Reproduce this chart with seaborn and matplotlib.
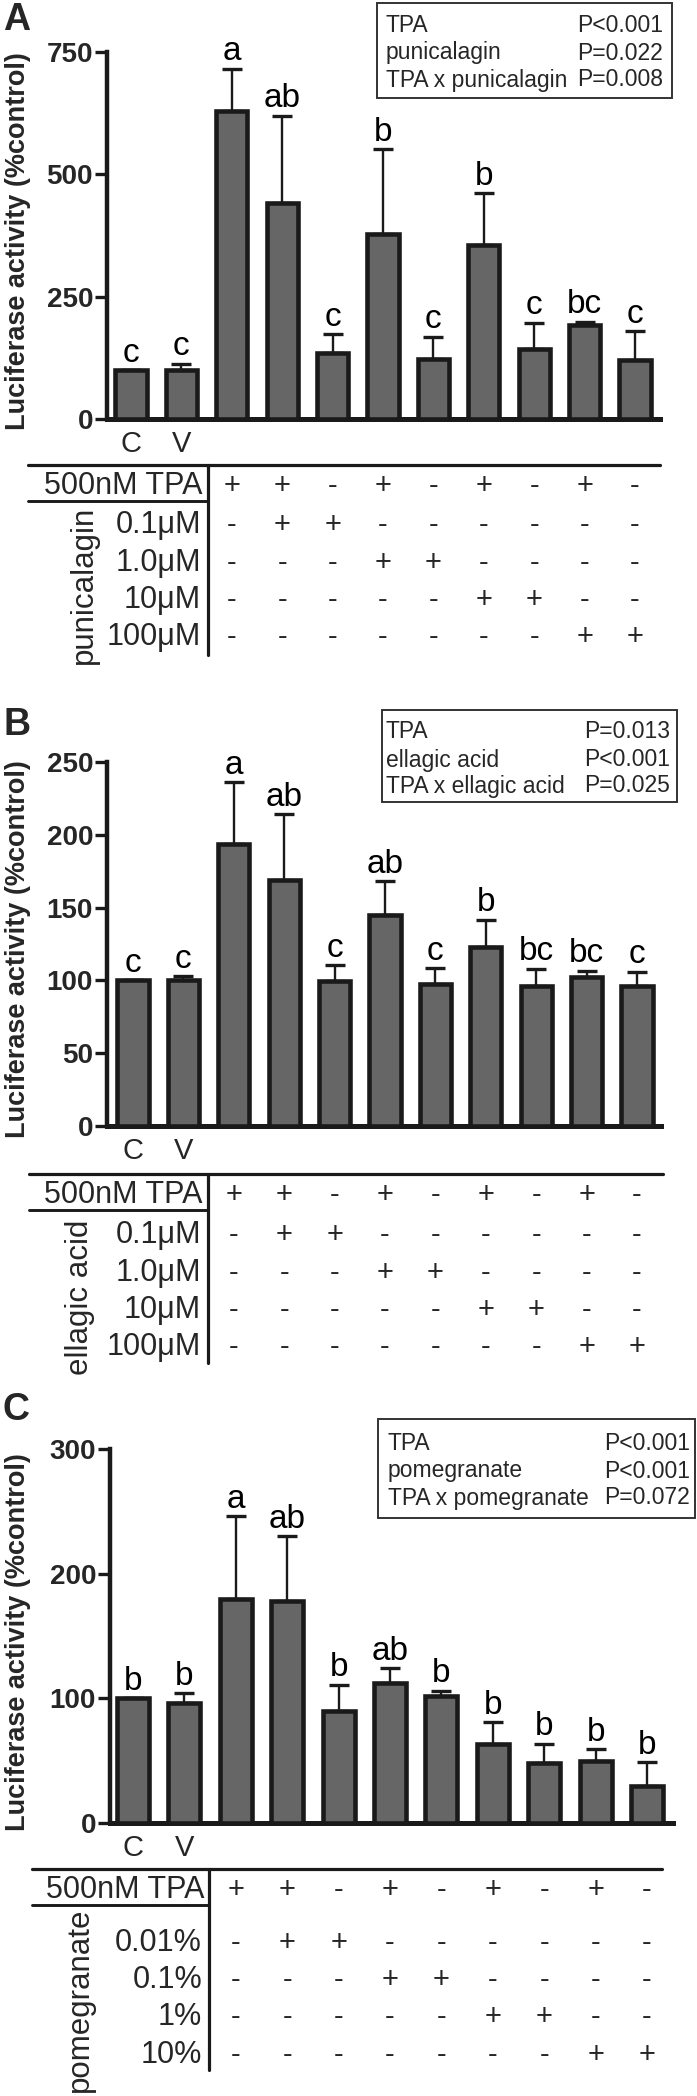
import matplotlib.pyplot as plt
import matplotlib.transforms as mtransforms
from matplotlib.lines import Line2D
from matplotlib.patches import Rectangle
import seaborn as sns
import numpy as np
import pandas as pd

# ---- data ----
bar_ids = ['C', 'V', 'TPA', 'TPA+d1', 'd1', 'TPA+d2', 'd2', 'TPA+d3', 'd3', 'TPA+d4', 'd4']

puni_mean = [100, 100, 630, 442, 134, 379, 123, 355, 144, 192, 120]
puni_err = [0, 13, 86, 178, 39, 172, 45, 107, 53, 7, 60]
puni_sig = ['c', 'c', 'a', 'ab', 'c', 'b', 'c', 'b', 'c', 'bc', 'c']
puni_yticks = [0, 250, 500, 750]
puni_stats = [('TPA', 'P<0.001'), ('punicalagin', 'P=0.022'), ('TPA x punicalagin', 'P=0.008')]
puni_doses = ['0.1μM', '1.0μM', '10μM', '100μM']

ella_mean = [100, 100, 193.5, 169, 99.5, 145, 97.5, 122.6, 96, 102, 96]
ella_err = [0, 3, 42.5, 45, 11, 23, 11, 19, 12, 4.6, 10]
ella_sig = ['c', 'c', 'a', 'ab', 'c', 'ab', 'c', 'b', 'bc', 'bc', 'c']
ella_yticks = [0, 50, 100, 150, 200, 250]
ella_stats = [('TPA', 'P=0.013'), ('ellagic acid', 'P<0.001'), ('TPA x ellagic acid', 'P=0.025')]
ella_doses = ['0.1μM', '1.0μM', '10μM', '100μM']

pome_mean = [100, 96, 180, 178, 90, 112, 101.6, 63, 48, 50, 30]
pome_err = [0, 8, 66, 52, 21, 12, 4.5, 18, 15.6, 9.4, 18.7]
pome_sig = ['b', 'b', 'a', 'ab', 'b', 'ab', 'b', 'b', 'b', 'b', 'b']
pome_yticks = [0, 100, 200, 300]
pome_stats = [('TPA', 'P<0.001'), ('pomegranate', 'P<0.001'), ('TPA x pomegranate', 'P=0.072')]
pome_doses = ['0.01%', '0.1%', '1%', '10%']

tpa_row = ['+', '+', '-', '+', '-', '+', '-', '+', '-']
dose_rows = [
    ['-', '+', '+', '-', '-', '-', '-', '-', '-'],
    ['-', '-', '-', '+', '+', '-', '-', '-', '-'],
    ['-', '-', '-', '-', '-', '+', '+', '-', '-'],
    ['-', '-', '-', '-', '-', '-', '-', '+', '+'],
]

# ---- style ----
sns.set_theme(style="ticks")
plt.rcParams['font.family'] = ['Liberation Sans', 'DejaVu Sans']
plt.rcParams['axes.edgecolor'] = '#1a1a1a'

W, H = 697, 2096
fig = plt.figure(figsize=(W / 100, H / 100), dpi=100)


def fx(px):
    return px / W


def fy(py):
    return 1 - py / H


# layout in pixels of the 697x2096 canvas
panels = [
    dict(letter='A', mean=puni_mean, err=puni_err, sig=puni_sig, yticks=puni_yticks,
         stats=puni_stats, compound='punicalagin', doses=puni_doses,
         box=(107, 52, 660, 419), first=131, step=50.4, letter_y=20,
         legend=(377, 3, 672, 98), legend_rows=(25, 53, 80), text_x=(386, 663),
         top=465, tpa=486, under=501, rows=(525, 563, 600, 637), vbottom=655,
         vx=208, left=28, right=660, group=(84, 585)),
    dict(letter='B', mean=ella_mean, err=ella_err, sig=ella_sig, yticks=ella_yticks,
         stats=ella_stats, compound='ellagic acid', doses=ella_doses,
         box=(107, 762, 661, 1126), first=133, step=50.4, letter_y=725,
         legend=(382, 710, 677, 802), legend_rows=(732, 760, 786), text_x=(386, 670),
         top=1174, tpa=1195, under=1210, rows=(1235, 1273, 1310, 1347), vbottom=1363,
         vx=208, left=29, right=663, group=(80, 1297)),
    dict(letter='C', mean=pome_mean, err=pome_err, sig=pome_sig, yticks=pome_yticks,
         stats=pome_stats, compound='pomegranate', doses=pome_doses,
         box=(110, 1449, 673, 1823), first=133, step=51.4, letter_y=1410,
         legend=(378, 1419, 695, 1518), legend_rows=(1443, 1471, 1498), text_x=(388, 690),
         top=1869, tpa=1890, under=1905, rows=(1943, 1980, 2017, 2055), vbottom=2070,
         vx=209, left=32, right=662, group=(80, 2000)),
]

dark = '#1a1a1a'

for p in panels:
    x0, y0, x1, y1 = p['box']
    ax = fig.add_axes([fx(x0), fy(y1), fx(x1) - fx(x0), fy(y0) - fy(y1)])
    df = pd.DataFrame({'group': bar_ids, 'value': p['mean'], 'err': p['err']})

    sns.barplot(data=df, x='group', y='value', order=bar_ids, color='#666666',
                saturation=1, width=0.62, edgecolor=dark, linewidth=3.3,
                errorbar=None, ax=ax, zorder=3)
    ax.errorbar(np.arange(len(df)), df['value'], yerr=[np.zeros(len(df)), df['err']],
                fmt='none', ecolor=dark, elinewidth=1.7, capsize=7, capthick=2.4, zorder=2)

    for i, row in df.iterrows():
        ax.annotate(p['sig'][i], (i, row['value'] + row['err']), xytext=(0, 6),
                    textcoords='offset points', ha='center', va='baseline',
                    fontsize=24, color='black')

    ax.set_xlim((x0 - p['first']) / p['step'], (x1 - p['first']) / p['step'])
    ax.set_ylim(0, p['yticks'][-1])
    ax.set_yticks(p['yticks'])
    ax.set_yticklabels([str(v) for v in p['yticks']], fontweight='bold', fontsize=20)
    ax.set_xticks([0, 1], ['C', 'V'])
    ax.tick_params(axis='x', length=0, labelsize=21, pad=8)
    ax.tick_params(axis='y', length=9, width=2.4, pad=1, color=dark)
    ax.set_xlabel('')
    ax.set_ylabel('Luciferase activity (%control)', fontsize=19.5, fontweight='bold')
    ax.yaxis.set_label_coords((31 - x0) / (x1 - x0), 0.485)
    sns.despine(ax=ax)
    ax.spines['left'].set_linewidth(3.2)
    ax.spines['bottom'].set_linewidth(3.6)
    ax.patch.set_alpha(0)

    # panel letter
    fig.text(fx(3), fy(p['letter_y']), p['letter'], fontsize=27, fontweight='bold',
             ha='left', va='center')

    # stats box
    lx0, ly0, lx1, ly1 = p['legend']
    fig.add_artist(Rectangle((fx(lx0), fy(ly1)), fx(lx1) - fx(lx0), fy(ly0) - fy(ly1),
                             transform=fig.transFigure, fill=False, ec='#333333', lw=1.4))
    for (name, pval), ry in zip(p['stats'], p['legend_rows']):
        fig.text(fx(p['text_x'][0]), fy(ry), name, fontsize=16.5, ha='left', va='center')
        fig.text(fx(p['text_x'][1]), fy(ry), pval, fontsize=16.5, ha='right', va='center')

    # treatment table
    fig.add_artist(Line2D([fx(p['left']), fx(p['right'])], [fy(p['top'])] * 2,
                          color=dark, lw=2.3))
    fig.add_artist(Line2D([fx(p['left']), fx(p['vx'])], [fy(p['under'])] * 2,
                          color=dark, lw=2.1))
    fig.add_artist(Line2D([fx(p['vx'])] * 2, [fy(p['top']), fy(p['vbottom'])],
                          color=dark, lw=2.3))
    fig.text(fx(p['vx'] - 5), fy(p['tpa']), '500nM TPA', fontsize=22, ha='right', va='center')
    for lab, ry in zip(p['doses'], p['rows']):
        fig.text(fx(p['vx'] - 7), fy(ry), lab, fontsize=22, ha='right', va='center')
    fig.text(fx(p['group'][0]), fy(p['group'][1]), p['compound'], fontsize=22.5,
             rotation=90, ha='center', va='center')

    trans = mtransforms.blended_transform_factory(ax.transData, fig.transFigure)
    for j, sym in enumerate(tpa_row):
        ax.text(j + 2, fy(p['tpa']), sym, transform=trans, fontsize=21,
                ha='center', va='center')
    for r, ry in zip(dose_rows, p['rows']):
        for j, sym in enumerate(r):
            ax.text(j + 2, fy(ry), sym, transform=trans, fontsize=21,
                    ha='center', va='center')

fig.savefig('out.png', dpi=100)
